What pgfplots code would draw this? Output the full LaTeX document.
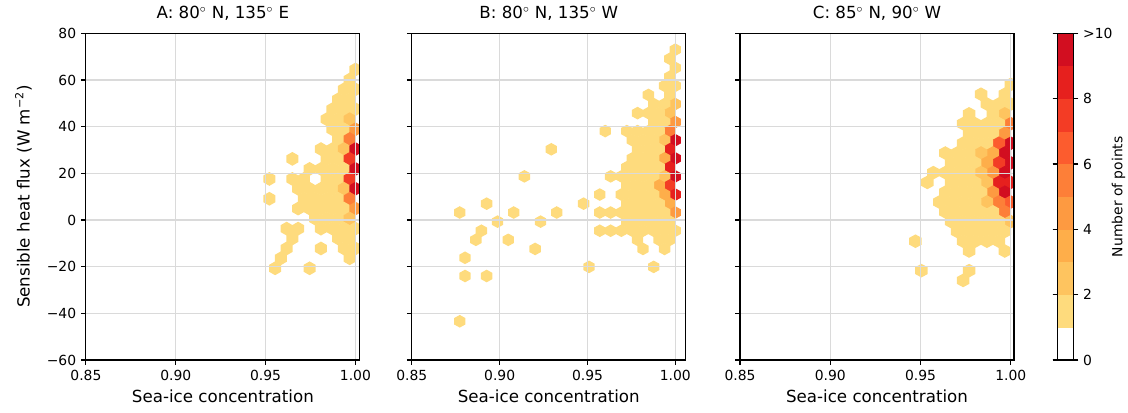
\documentclass[border=0pt]{standalone}
\usepackage{fontspec}
\setmainfont{DejaVu Sans}
\usepackage{pgfplots}
\usepackage{pgfplotstable}
\pgfplotsset{compat=1.18}

% hexagon marks (pointy top), sized to the hex grid of each panel
\pgfdeclareplotmark{hexA}{%
  \pgfpathmoveto{\pgfqpoint{0pt}{4.97pt}}%
  \pgfpathlineto{\pgfqpoint{4.3pt}{2.49pt}}%
  \pgfpathlineto{\pgfqpoint{4.3pt}{-2.49pt}}%
  \pgfpathlineto{\pgfqpoint{0pt}{-4.97pt}}%
  \pgfpathlineto{\pgfqpoint{-4.3pt}{-2.49pt}}%
  \pgfpathlineto{\pgfqpoint{-4.3pt}{2.49pt}}%
  \pgfpathclose\pgfusepathqfill}
\pgfdeclareplotmark{hexB}{%
  \pgfpathmoveto{\pgfqpoint{0pt}{4.55pt}}%
  \pgfpathlineto{\pgfqpoint{4.09pt}{2.28pt}}%
  \pgfpathlineto{\pgfqpoint{4.09pt}{-2.28pt}}%
  \pgfpathlineto{\pgfqpoint{0pt}{-4.55pt}}%
  \pgfpathlineto{\pgfqpoint{-4.09pt}{-2.28pt}}%
  \pgfpathlineto{\pgfqpoint{-4.09pt}{2.28pt}}%
  \pgfpathclose\pgfusepathqfill}
\pgfdeclareplotmark{hexC}{%
  \pgfpathmoveto{\pgfqpoint{0pt}{4.9pt}}%
  \pgfpathlineto{\pgfqpoint{4.5pt}{2.45pt}}%
  \pgfpathlineto{\pgfqpoint{4.5pt}{-2.45pt}}%
  \pgfpathlineto{\pgfqpoint{0pt}{-4.9pt}}%
  \pgfpathlineto{\pgfqpoint{-4.5pt}{-2.45pt}}%
  \pgfpathlineto{\pgfqpoint{-4.5pt}{2.45pt}}%
  \pgfpathclose\pgfusepathqfill}

\pgfplotsset{
  % 10 bands over 0..10: white, then 1..>9 points
  colormap={hexmap}{rgb255=(255,255,255) rgb255=(254,219,125) rgb255=(254,196,95)
    rgb255=(254,174,74) rgb255=(253,154,65) rgb255=(253,127,56) rgb255=(252,92,46)
    rgb255=(243,60,37) rgb255=(230,32,30) rgb255=(210,14,32)},
  hexpanel/.style={
    scale only axis, width=197.3pt, height=235.2pt,
    anchor=south west,
    xmin=0.85, ymin=-60, ymax=80,
    xtick={0.85,0.90,0.95,1.00}, xticklabels={0.85,0.90,0.95,1.00},
    ytick={-60,-40,...,80},
    grid=major,
    major grid style={draw={rgb,255:red,218;green,218;blue,218}, line width=0.8pt},
    axis on top,
    tick align=outside, tick pos=left, major tick length=3.5pt,
    every tick/.style={black, line width=0.8pt},
    axis line style={line width=0.8pt},
    tick label style={font=\fontsize{10}{12}\selectfont},
    label style={font=\fontsize{12}{14}\selectfont},
    title style={font=\fontsize{12}{14}\selectfont},
    xlabel={Sea-ice concentration},
    colormap name=hexmap, colormap access=piecewise constant,
    point meta min=0, point meta max=10,
    clip marker paths=true,
  },
  hexes/.style={scatter, only marks, mark=#1, scatter src=explicit,
    scatter/use mapped color={draw=none, fill=mapped color}},
}

% hexbin centres and counts: x = sea-ice concentration, y = flux, c = points
\pgfplotstableread{
x y c
1.0000 64.5 1
0.9968 60.2 1
0.9936 56.0 1
1.0000 56.0 1
0.9904 51.7 1
0.9968 51.7 1
0.9872 47.5 1
0.9936 47.5 1
1.0000 47.5 1
0.9840 43.2 1
0.9904 43.2 1
0.9968 43.2 2
0.9872 38.9 1
0.9936 38.9 1
1.0000 38.9 4
0.9904 34.7 1
0.9968 34.7 5
0.9808 30.4 1
0.9872 30.4 1
0.9936 30.4 2
1.0000 30.4 10
0.9649 26.2 1
0.9840 26.2 1
0.9904 26.2 1
0.9968 26.2 7
0.9745 21.9 1
0.9808 21.9 1
0.9872 21.9 1
0.9936 21.9 1
1.0000 21.9 9
0.9521 17.6 1
0.9649 17.6 1
0.9713 17.6 1
0.9840 17.6 1
0.9904 17.6 1
0.9968 17.6 7
0.9681 13.4 1
0.9745 13.4 1
0.9808 13.4 1
0.9872 13.4 1
0.9936 13.4 2
1.0000 13.4 9
0.9521 9.1 1
0.9713 9.1 1
0.9776 9.1 1
0.9840 9.1 1
0.9904 9.1 1
0.9968 9.1 5
0.9681 4.9 1
0.9745 4.9 1
0.9808 4.9 1
0.9872 4.9 1
0.9936 4.9 1
1.0000 4.9 4
0.9776 0.6 1
0.9840 0.6 1
0.9904 0.6 1
0.9968 0.6 2
0.9617 -3.7 1
0.9681 -3.7 1
0.9808 -3.7 1
0.9872 -3.7 1
0.9936 -3.7 1
1.0000 -3.7 1
0.9649 -7.9 1
0.9904 -7.9 1
0.9968 -7.9 1
0.9617 -12.2 1
0.9808 -12.2 1
0.9936 -12.2 1
1.0000 -12.2 1
0.9585 -16.4 1
0.9968 -16.4 1
0.9553 -20.7 1
0.9745 -20.7 1
}\dataA

\pgfplotstableread{
x y c
1.0000 73.0 1
0.9969 69.1 1
1.0000 65.2 1
0.9969 61.4 1
1.0000 57.5 1
0.9939 57.5 1
0.9969 53.6 1
0.9847 53.6 1
1.0000 49.7 2
0.9939 49.7 1
0.9877 49.7 1
0.9969 45.8 2
0.9908 45.8 1
0.9847 45.8 1
0.9785 45.8 1
1.0000 42.0 4
0.9939 42.0 1
0.9877 42.0 1
0.9969 38.1 5
0.9908 38.1 1
0.9847 38.1 1
0.9785 38.1 1
0.9724 38.1 1
0.9601 38.1 1
1.0000 34.2 10
0.9939 34.2 2
0.9877 34.2 1
0.9816 34.2 1
0.9755 34.2 1
0.9969 30.3 8
0.9908 30.3 1
0.9847 30.3 1
0.9785 30.3 1
0.9294 30.3 1
1.0000 26.4 9
0.9939 26.4 3
0.9877 26.4 1
0.9816 26.4 1
0.9755 26.4 1
0.9969 22.6 8
0.9908 22.6 1
0.9847 22.6 1
0.9785 22.6 1
0.9724 22.6 1
1.0000 18.7 10
0.9939 18.7 2
0.9877 18.7 1
0.9816 18.7 1
0.9755 18.7 1
0.9693 18.7 1
0.9632 18.7 1
0.9141 18.7 1
0.9969 14.8 7
0.9908 14.8 3
0.9847 14.8 1
0.9785 14.8 1
0.9724 14.8 1
1.0000 10.9 8
0.9939 10.9 3
0.9877 10.9 1
0.9816 10.9 1
0.9755 10.9 1
0.9693 10.9 1
0.9570 10.9 1
0.9969 7.0 3
0.9908 7.0 1
0.9847 7.0 1
0.9785 7.0 1
0.9724 7.0 1
0.9478 7.0 1
0.8926 7.0 1
1.0000 3.2 4
0.9939 3.2 1
0.9877 3.2 1
0.9816 3.2 1
0.9755 3.2 1
0.9693 3.2 1
0.9632 3.2 1
0.9570 3.2 1
0.9325 3.2 1
0.9080 3.2 1
0.8773 3.2 1
0.9969 -0.7 1
0.9908 -0.7 1
0.9847 -0.7 1
0.9785 -0.7 1
0.9724 -0.7 1
0.9233 -0.7 1
0.8988 -0.7 1
1.0000 -4.6 1
0.9939 -4.6 1
0.9877 -4.6 1
0.9816 -4.6 1
0.9755 -4.6 1
0.9693 -4.6 1
0.9632 -4.6 1
0.9570 -4.6 1
0.8896 -4.6 1
0.9969 -8.5 1
0.9908 -8.5 1
0.9785 -8.5 1
0.9049 -8.5 1
0.8865 -8.5 1
0.9939 -12.4 1
0.9816 -12.4 1
0.9202 -12.4 1
0.8803 -16.2 1
0.9877 -20.1 1
0.9509 -20.1 1
0.8926 -24.0 1
0.8803 -24.0 1
0.8773 -43.4 1
}\dataB

\pgfplotstableread{
x y c
1.0000 58.1 1
0.9967 53.9 1
0.9835 53.9 1
1.0000 49.7 1
0.9934 49.7 1
0.9868 49.7 1
0.9967 45.5 2
0.9901 45.5 1
0.9769 45.5 1
1.0000 41.3 5
0.9934 41.3 1
0.9868 41.3 1
0.9802 41.3 1
0.9736 41.3 1
0.9967 37.1 4
0.9901 37.1 1
0.9835 37.1 1
0.9769 37.1 1
1.0000 32.9 9
0.9934 32.9 6
0.9868 32.9 1
0.9802 32.9 1
0.9736 32.9 1
0.9967 28.7 10
0.9901 28.7 3
0.9835 28.7 2
0.9769 28.7 1
0.9703 28.7 1
0.9637 28.7 1
1.0000 24.5 9
0.9934 24.5 7
0.9868 24.5 3
0.9802 24.5 1
0.9736 24.5 1
0.9670 24.5 1
0.9967 20.3 10
0.9901 20.3 4
0.9835 20.3 2
0.9769 20.3 1
0.9703 20.3 1
0.9637 20.3 1
0.9571 20.3 1
1.0000 16.1 8
0.9934 16.1 8
0.9868 16.1 2
0.9802 16.1 1
0.9736 16.1 1
0.9670 16.1 1
0.9538 16.1 1
0.9967 11.9 9
0.9901 11.9 4
0.9835 11.9 1
0.9769 11.9 1
0.9703 11.9 1
0.9637 11.9 1
1.0000 7.7 6
0.9934 7.7 5
0.9868 7.7 2
0.9802 7.7 1
0.9736 7.7 1
0.9670 7.7 1
0.9604 7.7 1
0.9967 3.5 5
0.9901 3.5 1
0.9835 3.5 1
0.9769 3.5 1
0.9703 3.5 1
0.9637 3.5 1
1.0000 -0.7 2
0.9934 -0.7 1
0.9868 -0.7 1
0.9802 -0.7 1
0.9736 -0.7 1
0.9670 -0.7 1
0.9967 -4.9 1
0.9901 -4.9 1
0.9835 -4.9 1
0.9769 -4.9 1
0.9703 -4.9 1
0.9934 -9.1 1
0.9868 -9.1 1
0.9802 -9.1 1
0.9736 -9.1 1
0.9472 -9.1 1
0.9967 -13.3 1
0.9769 -13.3 1
0.9769 -21.7 1
0.9505 -21.7 1
0.9736 -25.9 1
}\dataC

\begin{document}
\begin{tikzpicture}
\useasboundingbox (0pt,0pt) rectangle (812.16pt,297.36pt);

\begin{axis}[hexpanel, at={(61.85pt,38.16pt)}, xmax=1.0025,
    yticklabels={−60,−40,−20,0,20,40,60,80},
    ylabel={Sensible heat flux (W m\textsuperscript{−2})},
    ylabel shift=4pt,
    title={A: 80$^\circ$ N, 135$^\circ$ E}]
  \addplot[hexes=hexA] table[x=x, y=y, meta=c] {\dataA};
\end{axis}

\begin{axis}[hexpanel, at={(296.5pt,38.16pt)}, xmax=1.006,
    yticklabels={},
    title={B: 80$^\circ$ N, 135$^\circ$ W}]
  \addplot[hexes=hexB] table[x=x, y=y, meta=c] {\dataB};
\end{axis}

\begin{axis}[hexpanel, at={(532.8pt,38.16pt)}, xmax=1.0018,
    yticklabels={},
    title={C: 85$^\circ$ N, 90$^\circ$ W},
    colorbar,
    colorbar style={
      at={(parent axis.north east)}, anchor=north west, xshift=22.7pt,
      scale only axis, width=11.5pt, height=235.2pt,
      ytick={0,2,4,6,8,10}, yticklabels={0,2,4,6,8,>10},
      yticklabel pos=right,
      tick align=outside, major tick length=3.5pt,
      every tick/.style={black, line width=0.8pt},
      axis line style={line width=0.8pt},
      tick label style={font=\fontsize{10}{12}\selectfont},
    }]
  \addplot[hexes=hexC] table[x=x, y=y, meta=c] {\dataC};
\end{axis}

% colour bar label
\node[rotate=90, anchor=north, font=\fontsize{10}{12}\selectfont]
  at (797pt,155.7pt) {Number of points};
\end{tikzpicture}
\end{document}
